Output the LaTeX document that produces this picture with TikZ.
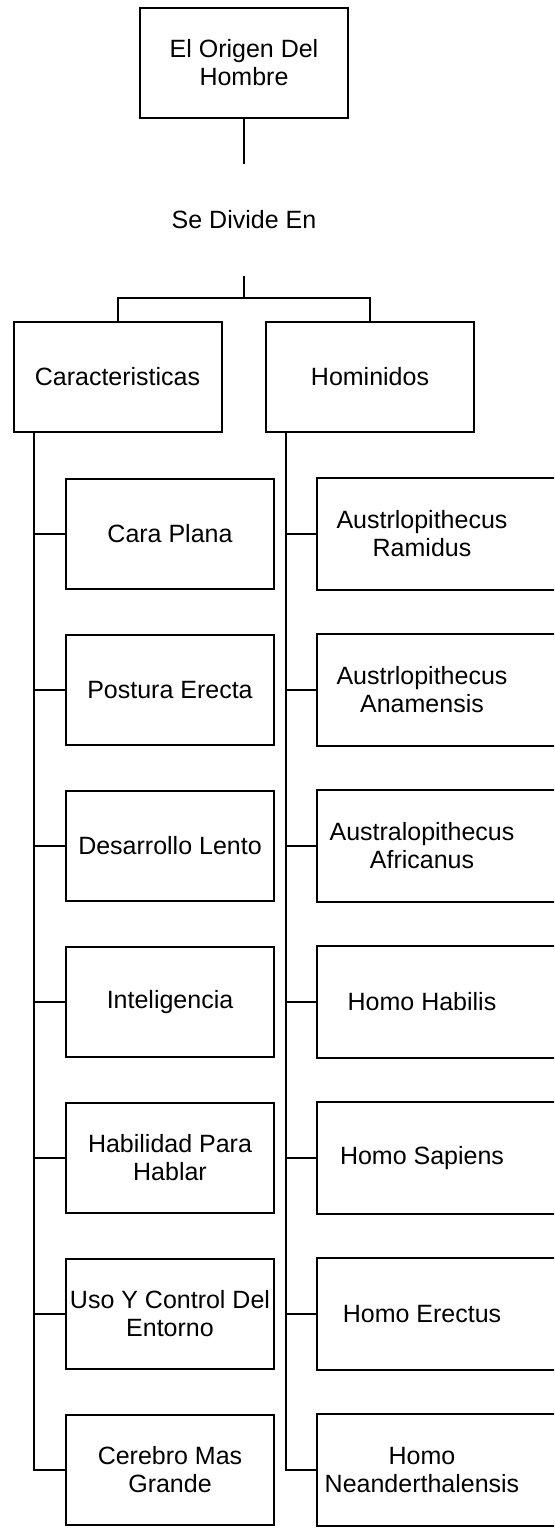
\documentclass[tikz,border=0pt]{standalone}
\usepackage{fontspec}
\setmainfont{Liberation Sans}
\begin{document}
\begin{tikzpicture}[x=1pt,y=-1pt,line width=2pt,
  lbl/.style={inner sep=0pt,align=center,font=\fontsize{25}{28}\selectfont},
  box/.style={lbl,draw,minimum width=208pt,minimum height=110pt},
  openbox/.style={lbl,minimum width=208pt,minimum height=110pt}]
\clip (0,0) rectangle (554,1530);
\fill[white] (0,0) rectangle (554,1530);
\node[box] (root) at (244,63) {El Origen Del\\Hombre};
\node[lbl] (div) at (244,220) {Se Divide En};
\node[box] (car) at (117.5,377) {Caracteristicas};
\node[box] (hom) at (370,377) {Hominidos};
\coordinate (d1) at (244,164);
\coordinate (d2) at (244,276);
\coordinate (bar) at (244,298);
\draw (root.south) -- (d1);
\draw (d2) -- (bar);
\draw (bar) -| (car.north);
\draw (bar) -| (hom.north);
% left column
\foreach \t [count=\i from 0] in {Cara Plana,Postura Erecta,Desarrollo Lento,Inteligencia,{Habilidad Para\\Hablar},{Uso Y Control Del\\Entorno},{Cerebro Mas\\Grande}}{
  \node[box] (c\i) at (170,534+156*\i) {\t};
}
\coordinate (ltop) at (34,432);
\draw (ltop) |- (c6.west);
\foreach \i in {0,...,5}{\draw (c\i.west) -- +(-32,0);}
% right column
\foreach \t [count=\i from 0] in {{Austrlopithecus\\Ramidus},{Austrlopithecus\\Anamensis},{Australopithecus\\Africanus},Homo Habilis,Homo Sapiens,Homo Erectus,{Homo\\Neanderthalensis}}{
  \node[openbox] (h\i) at (422,534+156*\i) {\t};
  \draw ([xshift=100pt]h\i.north east) -- (h\i.north west) -- (h\i.south west) -- ([xshift=100pt]h\i.south east);
}
\coordinate (rtop) at (286,432);
\draw (rtop) |- (h6.west);
\foreach \i in {0,...,5}{\draw (h\i.west) -- +(-32,0);}
\end{tikzpicture}
\end{document}
